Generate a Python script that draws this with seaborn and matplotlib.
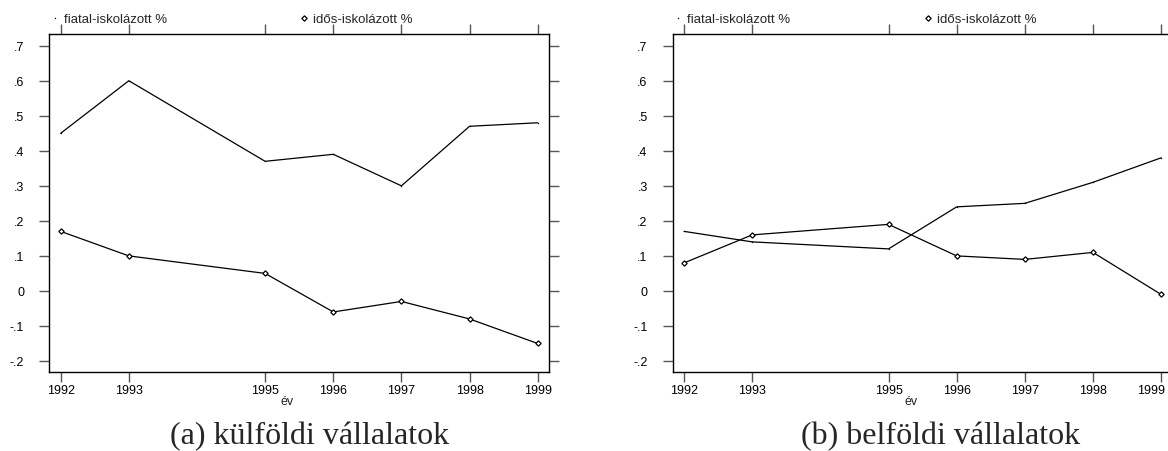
import matplotlib
matplotlib.use("Agg")
import matplotlib.pyplot as plt
from matplotlib.lines import Line2D
import seaborn as sns
import pandas as pd

years = [1992, 1993, 1995, 1996, 1997, 1998, 1999]
kulfoldi_fiatal = [0.45, 0.60, 0.37, 0.39, 0.30, 0.47, 0.48]
kulfoldi_idos = [0.17, 0.10, 0.05, -0.06, -0.03, -0.08, -0.15]
belfoldi_fiatal = [0.17, 0.14, 0.12, 0.24, 0.25, 0.31, 0.38]
belfoldi_idos = [0.08, 0.16, 0.19, 0.10, 0.09, 0.11, -0.01]

yticks = [0.7, 0.6, 0.5, 0.4, 0.3, 0.2, 0.1, 0.0, -0.1, -0.2]
ytick_labels = [".7", ".6", ".5", ".4", ".3", ".2", ".1", "0", "-.1", "-.2"]
label_fiatal = "fiatal-iskolázott %"
label_idos = "idős-iskolázott %"
xlabel = "év"
captions = ["(a) külföldi vállalatok", "(b) belföldi vállalatok"]

sns.set_style("ticks")
plt.rcParams["font.family"] = ["Liberation Sans", "DejaVu Sans"]

W, H = 1168, 452
fig = plt.figure(figsize=(W / 100, H / 100), dpi=100)

panels = [
    (49.3, kulfoldi_fiatal, kulfoldi_idos, captions[0], 310, False),
    (672.7, belfoldi_fiatal, belfoldi_idos, captions[1], 941, True),
]
ax_w = 500
ax_top, ax_bottom = 35, 373

for left_px, fiatal, idos, cap, cap_x, shift_last in panels:
    ax = fig.add_axes([left_px / W, (H - ax_bottom) / H, ax_w / W, (ax_bottom - ax_top) / H])
    df = pd.DataFrame({"ev": years, "fiatal": fiatal, "idos": idos})
    sns.lineplot(data=df, x="ev", y="fiatal", ax=ax, color="black", lw=0.9,
                 marker=".", markersize=2, markeredgewidth=0)
    sns.lineplot(data=df, x="ev", y="idos", ax=ax, color="black", lw=0.9,
                 marker="D", markersize=2.7, markerfacecolor="white",
                 markeredgecolor="black", markeredgewidth=0.9)
    ax.set_xlim(1991.833, 1999.17)
    ax.set_ylim(-0.2314, 0.7334)
    ax.set_xticks(years)
    ax.set_xticklabels([str(y) for y in years])
    ax.set_yticks(yticks)
    ax.set_yticklabels(ytick_labels)
    ax.tick_params(axis="both", which="major", direction="out", length=7, width=1,
                   color="#555555", labelsize=9, labelcolor="black")
    ax.tick_params(axis="x", top=True, labeltop=False, pad=2)
    ax.tick_params(axis="y", right=True, labelright=False, pad=10.5, length=7.5)
    if shift_last:
        last = ax.get_xticklabels()[-1]
        last.set_horizontalalignment("right")
        from matplotlib.transforms import ScaledTranslation
        last.set_transform(last.get_transform() + ScaledTranslation(4 / 100, 0, fig.dpi_scale_trans))
    for s in ax.spines.values():
        s.set_visible(True)
        s.set_color("black")
        s.set_linewidth(1.0)
    ax.set_xlabel("")
    ax.set_ylabel("")
    ax.text(0.476, -0.087, xlabel, transform=ax.transAxes, ha="center", va="center",
            fontsize=9)

    h1 = Line2D([], [], color="black", linestyle="none", marker=".", markersize=2,
                markeredgewidth=0)
    h2 = Line2D([], [], color="black", linestyle="none", marker="D", markersize=2.7,
                markerfacecolor="white", markeredgecolor="black", markeredgewidth=0.9)
    leg1 = ax.legend(handles=[h1], labels=[label_fiatal], loc="center left",
                     bbox_to_anchor=(0.003, 1.044), frameon=False, fontsize=9.5,
                     borderpad=0, borderaxespad=0, handlelength=0.6, handletextpad=0.4)
    ax.add_artist(leg1)
    ax.legend(handles=[h2], labels=[label_idos], loc="center left",
              bbox_to_anchor=(0.502, 1.044), frameon=False, fontsize=9.5,
              borderpad=0, borderaxespad=0, handlelength=0.6, handletextpad=0.4)

    fig.text(cap_x / W, 1 - 437 / H, cap, ha="center", va="center", fontsize=23,
             family=["Liberation Serif", "DejaVu Serif"])

fig.savefig("out.png", dpi=100)
